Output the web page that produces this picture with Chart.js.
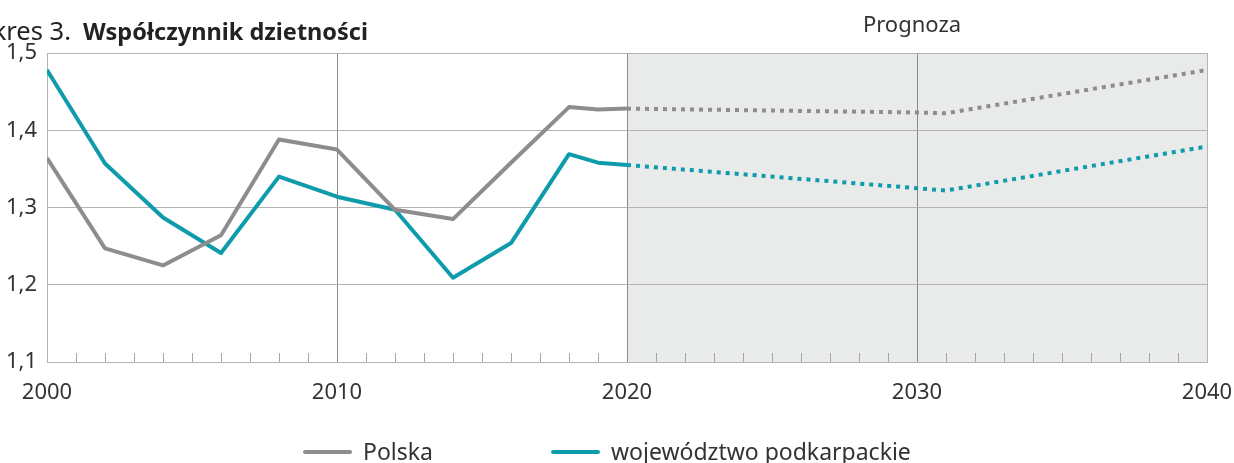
<!DOCTYPE html>
<html>
<head>
<meta charset="utf-8">
<script src="https://cdn.jsdelivr.net/npm/chart.js@4"></script>
<style>
  body { margin: 0; background: #fff; overflow: hidden; }
  #wrap { position: relative; width: 1234px; height: 463px; font-family: "Noto Sans", sans-serif; color: #222; }
  #chart { position: absolute; left: 0; top: 0; }
  .title { position: absolute; left: -44px; top: 18px; font-size: 25.5px; white-space: nowrap; line-height: 1; }
  .title b { font-weight: 700; font-size: 23.5px; margin-left: 12px; }
  .prog { position: absolute; left: 862px; top: 12px; width: 100px; text-align: center; font-size: 22px; color: #333; line-height: 1; }
  .leg { position: absolute; top: 440px; font-size: 23px; color: #333; line-height: 1; white-space: nowrap; }
  .leg i { display: inline-block; width: 49px; height: 4px; border-radius: 2px; vertical-align: middle; margin-right: 11px; position: relative; top: -2px; }
</style>
</head>
<body>
<div id="wrap">
  <canvas id="chart" width="1234" height="463"></canvas>
  <div class="title">Wykres 3.<b>Współczynnik dzietności</b></div>
  <div class="prog">Prognoza</div>
  <div class="leg" style="left:303px"><i style="background:#8d8d8d"></i>Polska</div>
  <div class="leg" style="left:551px"><i style="background:#0e9cac"></i>województwo podkarpackie</div>
</div>
<script>
// dane
var histYears = [2000, 2002, 2004, 2006, 2008, 2010, 2012, 2014, 2016, 2018, 2019, 2020];
var polskaHist = [1.364, 1.247, 1.225, 1.264, 1.388, 1.375, 1.297, 1.285, 1.358, 1.430, 1.427, 1.428];
var podkarpHist = [1.478, 1.357, 1.287, 1.241, 1.340, 1.314, 1.297, 1.209, 1.254, 1.369, 1.358, 1.355];
var progYears = [2020, 2030, 2031, 2040];
var polskaProg = [1.428, 1.423, 1.422, 1.478];
var podkarpProg = [1.355, 1.325, 1.322, 1.379];
var yTicks = [1.1, 1.2, 1.3, 1.4, 1.5];
var xLabels = [2000, 2010, 2020, 2030, 2040];

var GRAY = '#8d8d8d';
var TEAL = '#0e9cac';

function pts(xs, ys) {
    return xs.map(function (x, i) { return { x: x, y: ys[i] }; });
}

// shaded forecast area + small ticks inside the plot
var extras = {
    id: 'extras',
    beforeDraw: function (chart) {
        var c = chart.ctx, a = chart.chartArea, xs = chart.scales.x;
        var x0 = xs.getPixelForValue(2020), x1 = xs.getPixelForValue(2040);
        c.save();
        c.fillStyle = '#e9eaea';
        c.fillRect(x0, a.top, x1 - x0, a.bottom - a.top);
        c.restore();
    },
    beforeDatasetsDraw: function (chart) {
        var c = chart.ctx, a = chart.chartArea, xs = chart.scales.x;
        c.save();
        c.strokeStyle = '#a5a5a5';
        c.lineWidth = 1;
        for (var yr = 2001; yr < 2040; yr++) {
            if (yr % 10 === 0) continue;
            var px = Math.round(xs.getPixelForValue(yr)) + 0.5;
            c.beginPath();
            c.moveTo(px, a.bottom);
            c.lineTo(px, a.bottom - 9);
            c.stroke();
        }
        c.restore();
    }
};

var ctx = document.getElementById('chart').getContext('2d');
var myChart = new Chart(ctx, {
    type: 'line',
    data: {
        datasets: [
            { label: 'Polska', data: pts(histYears, polskaHist), borderColor: GRAY },
            { label: 'województwo podkarpackie', data: pts(histYears, podkarpHist), borderColor: TEAL },
            { label: 'Polska prognoza', data: pts(progYears, polskaProg), borderColor: GRAY, borderDash: [4, 5] },
            { label: 'podkarpackie prognoza', data: pts(progYears, podkarpProg), borderColor: TEAL, borderDash: [4, 5] }
        ]
    },
    options: {
        responsive: false,
        animation: false,
        devicePixelRatio: 1,
        layout: { padding: { left: 0, top: 53, right: 27, bottom: 0 } },
        elements: {
            point: { radius: 0 },
            line: { borderWidth: 4, tension: 0, borderCapStyle: 'butt', borderJoinStyle: 'round', fill: false }
        },
        plugins: {
            legend: { display: false },
            tooltip: { enabled: false }
        },
        scales: {
            x: {
                type: 'linear',
                min: 2000,
                max: 2040,
                afterBuildTicks: function (scale) {
                    var t = [];
                    for (var yr = 2000; yr <= 2040; yr++) t.push({ value: yr });
                    scale.ticks = t;
                },
                afterFit: function (scale) {
                    scale.height = 101;
                    scale.paddingLeft = 0;
                    scale.paddingRight = 0;
                },
                ticks: {
                    autoSkip: false,
                    maxRotation: 0,
                    padding: 18,
                    color: '#333',
                    font: { family: 'Noto Sans', size: 22 },
                    callback: function (v) { return xLabels.indexOf(v) >= 0 ? String(v) : ''; }
                },
                grid: {
                    drawTicks: false,
                    color: function (c) {
                        var v = c.tick.value;
                        if (v === 2000 || v === 2040) return '#b3b3b3';
                        return v % 10 === 0 ? '#8a8a8a' : 'rgba(0,0,0,0)';
                    }
                },
                border: { color: '#b3b3b3' }
            },
            y: {
                min: 1.1,
                max: 1.5,
                afterBuildTicks: function (scale) {
                    scale.ticks = yTicks.map(function (v) { return { value: v }; });
                },
                afterFit: function (scale) { scale.width = 47; },
                ticks: {
                    padding: 10,
                    color: '#333',
                    font: { family: 'Noto Sans', size: 22 },
                    callback: function (v) { return v.toFixed(1).replace('.', ','); }
                },
                grid: { drawTicks: false, color: '#b3b3b3' },
                border: { color: '#b3b3b3' }
            }
        }
    },
    plugins: [extras]
});
</script>
</body>
</html>
